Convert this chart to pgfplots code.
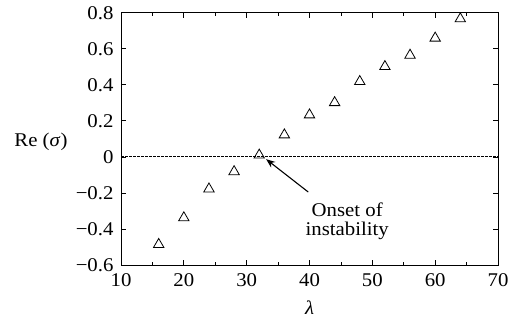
\documentclass[border=0pt]{standalone}
\usepackage{fontspec}
\setmainfont{Liberation Serif}[FakeStretch=1.07]
\usepackage{pgfplots}
\pgfplotsset{compat=1.18}
\usetikzlibrary{arrows.meta}
\begin{document}
\begin{tikzpicture}
\begin{axis}[
  name=ax,
  scale only axis,
  width=377bp, height=252.3bp,
  xmin=10, xmax=70, ymin=-0.6, ymax=0.8,
  xtick={10,20,...,70},
  minor xtick={15,25,...,65},
  ytick={-0.6,-0.4,...,0.8},
  yticklabels={−0.6,−0.4,−0.2,0,0.2,0.4,0.6,0.8},
  /pgf/number format/assume math mode=true,
  tick align=inside,
  major tick length=5bp,
  minor tick length=3bp,
  axis line style={line width=0.9bp},
  every tick/.style={line width=0.7bp, black},
  xlabel={\itshape λ},
  ylabel={Re (\textit{σ})},
  ylabel style={rotate=-90, anchor=east, at={(axis description cs:0,0.49)}, xshift=-50bp},
  xlabel style={at={(axis description cs:0.5,0)}, anchor=center, yshift=-43bp},
  yticklabel style={xshift=-4bp},
  xticklabel style={yshift=-5bp},
  tick label style={font=\fontsize{19.5}{21}\selectfont},
  label style={font=\fontsize{19.5}{21}\selectfont},
]
\addplot[black, dash pattern=on 2.6bp off 1.4bp, line width=1bp] coordinates {(10,0) (70,0)};
\addplot[only marks, mark=triangle, mark size=6bp, mark options={line width=0.8bp, black}] coordinates {
(16,-0.486) (20,-0.338) (24,-0.178) (28,-0.082) (32,0.01) (36,0.122) (40,0.233) (44,0.301) (48,0.418) (52,0.501) (56,0.564) (60,0.659) (64,0.766)
};
\draw[-{Stealth[length=9bp,width=7bp]}, line width=1.1bp] (axis cs:39.8,-0.195) -- (axis cs:33.1,-0.013);
\node[align=center, font=\fontsize{19.5}{19}\selectfont] at (axis cs:46,-0.355) {Onset of\\instability};
\end{axis}
\pgfresetboundingbox
\path ([xshift=-121bp,yshift=-57bp]ax.south west) rectangle ([xshift=11bp,yshift=12.7bp]ax.north east);
\end{tikzpicture}
\end{document}
